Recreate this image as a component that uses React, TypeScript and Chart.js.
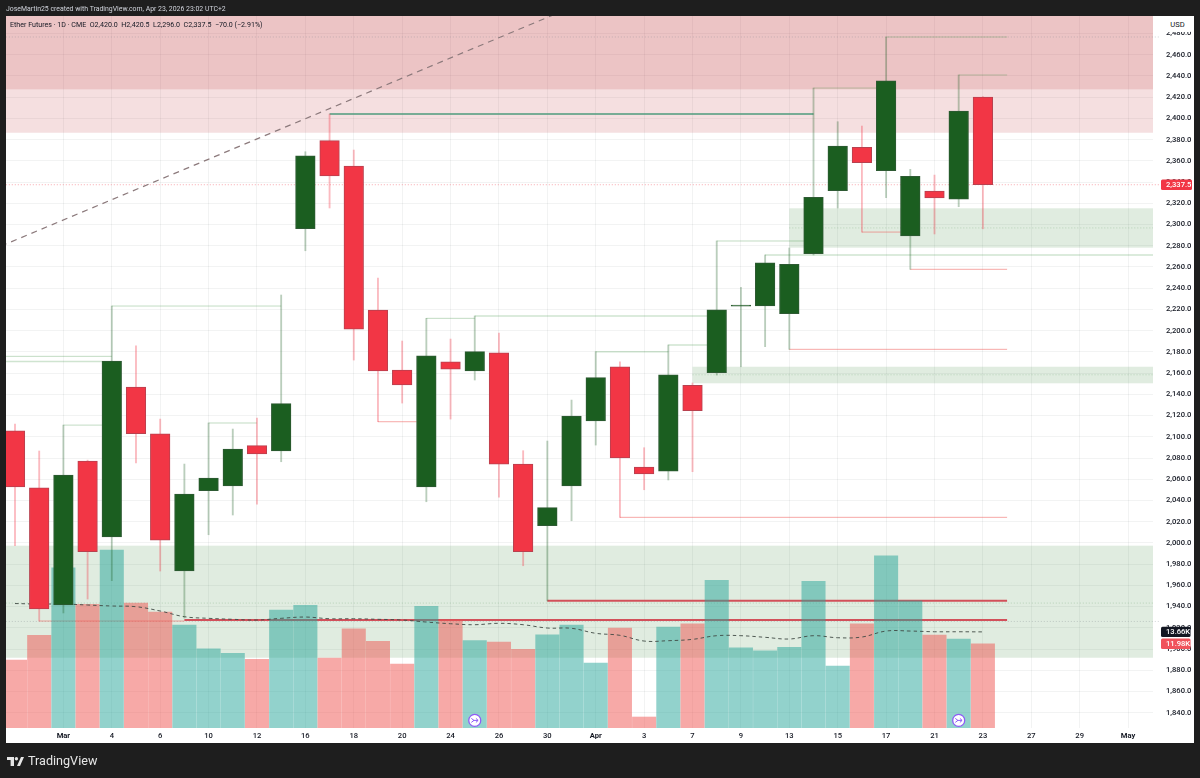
import React, { useEffect, useRef } from "react";
import { Chart, registerables } from "chart.js";

Chart.register(...registerables);

const categories = ["26", "27", "Mar", "3", "4", "5", "6", "9", "10", "11", "12", "13", "16", "17", "18", "19", "20", "23", "24", "25", "26", "27", "30", "31", "Apr", "2", "3", "6", "7", "8", "9", "10", "13", "14", "15", "16", "17", "20", "21", "22", "23", "24", "27", "28", "29", "30", "May", "4"];
const monthLabels = ["Mar", "Apr", "May"];
const dateTicks = [2, 4, 6, 8, 10, 12, 14, 16, 18, 20, 22, 24, 26, 28, 30, 32, 34, 36, 38, 40, 42, 44, 46];
const priceTicks = [1840, 1860, 1880, 1900, 1920, 1940, 1960, 1980, 2000, 2020, 2040, 2060, 2080, 2100, 2120, 2140, 2160, 2180, 2200, 2220, 2240, 2260, 2280, 2300, 2320, 2340, 2360, 2380, 2400, 2420, 2440, 2460, 2480];

const opens = [2105.7, 2052, 1941.5, 2077.2, 2005.6, 2146.9, 2102.9, 1973.5, 2049.2, 2053.6, 2091.6, 2086.6, 2296, 2379, 2355.1, 2219.4, 2162.9, 2052.7, 2170.7, 2162, 2179.2, 2074.3, 2016.2, 2053.6, 2114.9, 2166, 2071.5, 2067.7, 2148.5, 2160.4, 2223, 2223.2, 2216, 2272.5, 2331.9, 2372.7, 2350.7, 2289.2, 2331.6, 2323.8, 2420];
const highs = [2112, 2086.6, 2111, 2078, 2223.2, 2185.8, 2116.7, 2074.3, 2113, 2107.3, 2117.7, 2233.6, 2368.6, 2404.1, 2370.2, 2249.6, 2190.2, 2211.6, 2192.1, 2213.8, 2197.8, 2086.9, 2096, 2134.6, 2180.2, 2170.7, 2089.7, 2186.5, 2150.7, 2284.5, 2240.8, 2271.3, 2277.9, 2428.6, 2396.9, 2392.8, 2476.7, 2352, 2346.6, 2440.9, 2420.5];
const lows = [1997.4, 1926.4, 1934, 1947.1, 1964.4, 2075.3, 1973.5, 1929.2, 2007.7, 2026.3, 2036.6, 2076.5, 2275.3, 2315.6, 2172.3, 2114.2, 2131.8, 2038.8, 2116.7, 2153.5, 2043.2, 1978.5, 1945.3, 2020.9, 2092.2, 2024.1, 2050.1, 2059.3, 2067.1, 2158.2, 2166, 2184.9, 2182.4, 2271.3, 2315.6, 2292.9, 2325.3, 2257.8, 2291.1, 2316.8, 2296];
const closes = [2052.7, 1937.7, 2064, 1991.7, 2171.4, 2102.9, 2002.7, 2046.1, 2061.1, 2088.5, 2083.8, 2131.2, 2364.8, 2345.7, 2201.5, 2162, 2148.8, 2176.4, 2163.6, 2180.2, 2074.3, 1991.7, 2033.2, 2119.6, 2155.7, 2080, 2064.9, 2158.5, 2124.6, 2219.7, 2224, 2264, 2262.5, 2325.6, 2374, 2358.2, 2435.5, 2345.4, 2325, 2407, 2337.5];

// volume in thousands
const volumes = [9.66, 13.17, 22.78, 17.58, 25.29, 17.76, 16.48, 14.64, 11.27, 10.61, 9.76, 16.77, 17.44, 9.95, 14.11, 12.32, 9.09, 17.29, 15.35, 12.41, 12.22, 11.18, 13.26, 14.64, 9.24, 14.21, 1.56, 14.35, 14.82, 20.99, 11.41, 10.98, 11.47, 20.85, 8.81, 14.82, 24.48, 18.09, 13.22, 12.65, 11.98];
const volumeMA = [17.69, 17.62, 17.62, 17.48, 17.34, 17.24, 16.63, 15.82, 15.59, 15.45, 15.35, 15.59, 15.77, 15.53, 15.53, 15.45, 15.35, 15.06, 14.82, 14.68, 14.88, 14.68, 14.21, 14.17, 13.46, 13.17, 12.36, 12.41, 12.6, 13.12, 13.12, 12.89, 12.65, 13.12, 12.83, 12.93, 13.78, 13.78, 13.68, 13.68, 13.66];

// [from bar, to bar, price]
const greenLevels = [[-1, 4, 2175.8], [2, 3.6, 2111], [4, 11, 2223.2], [8, 10, 2113], [17, 19, 2211.6], [29, 32.7, 2284.5], [33, 35.7, 2428.6], [36, 41, 2476.7], [39, 41, 2440.9]];
const wideGreenLevels = [[-1, 3.6, 2170.9], [19, 28.6, 2213.8], [24, 27, 2180.2], [27, 28.6, 2186.5], [31, 48, 2271.3]];
const redLevels = [[1, 7, 1926.4], [15, 16.6, 2114.2], [25, 41, 2024.1], [32, 41, 2182.4], [35, 36.6, 2292.9], [37, 41, 2257.8]];
const heavyRedLevels = [[7, 41, 1927.3], [22, 41, 1945.5]];
const heavyGreenLevels = [[13, 33, 2404.1]];

// [from bar, price top, price bottom]
const greenZones = [[-1, 1997.4, 1891.8], [32, 2315.3, 2278.2], [28, 2166, 2150.4]];
const redZones = [[-1, 2500, 2427.4], [-1, 2500, 2386.5]];

// [from bar, price]
const zoneMidlines = [[-1, 1943.3], [32, 2296.8], [28, 2158.4]];
const sessionLines = [2476.7, 1926];

const trendBars = [-1, 23];
const trendPrices = [2275.7, 2504.7];

const eventBars = [19, 39];

const GREEN = "#1b5e20";
const RED = "#f23645";
const isUp = (i: number) => closes[i] >= opens[i];
const fmtPrice = (v: number) => v.toLocaleString("en-US", { minimumFractionDigits: 1, maximumFractionDigits: 1 });

const zonesPlugin = {
  id: "zones",
  beforeDatasetsDraw(chart: any) {
    const { ctx, chartArea, scales } = chart;
    const drawZone = (zone: number[], color: string) => {
      const x = Math.max(scales.x.getPixelForValue(zone[0]), chartArea.left);
      const top = Math.max(scales.y.getPixelForValue(zone[1]), chartArea.top);
      const bottom = scales.y.getPixelForValue(zone[2]);
      ctx.fillStyle = color;
      ctx.fillRect(x, top, chartArea.right - x, bottom - top);
    };
    greenZones.forEach((z) => drawZone(z, "rgba(46,125,50,0.15)"));
    redZones.forEach((z) => drawZone(z, "rgba(188,42,48,0.15)"));
  },
};

const tagsPlugin = {
  id: "tags",
  afterDraw(chart: any) {
    const { ctx, scales } = chart;
    const drawTag = (y: number, text: string, color: string, width: number) => {
      ctx.fillStyle = color;
      ctx.beginPath();
      ctx.roundRect(1161, y - 5.2, width, 10.4, 1.5);
      ctx.fill();
      ctx.fillStyle = "#ffffff";
      ctx.font = "500 7.6px Roboto";
      ctx.textBaseline = "middle";
      ctx.textAlign = "left";
      ctx.fillText(text, 1166, y + 0.4);
    };
    const last = closes.length - 1;
    drawTag(scales.y.getPixelForValue(closes[last]), fmtPrice(closes[last]), RED, 31);
    drawTag(scales.vol.getPixelForValue(volumeMA[last]), volumeMA[last].toFixed(2) + "K", "#131722", 29.5);
    drawTag(scales.vol.getPixelForValue(volumes[last]), volumes[last].toFixed(2) + "K", "#f0535b", 29.5);

    // earnings style event markers sitting on the bottom of the pane
    eventBars.forEach((bar) => {
      const x = scales.x.getPixelForValue(bar);
      const y = chart.chartArea.bottom - 7.6;
      ctx.beginPath();
      ctx.arc(x, y, 6, 0, Math.PI * 2);
      ctx.fillStyle = "#ffffff";
      ctx.fill();
      ctx.lineWidth = 1.3;
      ctx.strokeStyle = "#8f5cf6";
      ctx.stroke();
      ctx.beginPath();
      ctx.moveTo(x - 3.4, y - 2);
      ctx.lineTo(x - 0.8, y);
      ctx.lineTo(x - 3.4, y + 2);
      ctx.moveTo(x - 1.5, y);
      ctx.lineTo(x + 3.2, y);
      ctx.moveTo(x + 1.2, y - 2);
      ctx.lineTo(x + 3.4, y);
      ctx.lineTo(x + 1.2, y + 2);
      ctx.lineWidth = 1;
      ctx.stroke();
    });
  },
};

const levelDataset = (level: number[], color: string, width: number) => ({
  type: "line" as const,
  yAxisID: "y",
  data: [{ x: level[0], y: level[2] }, { x: level[1], y: level[2] }],
  borderColor: color,
  borderWidth: width,
  pointRadius: 0,
  order: 20,
});

const App = () => {
  const canvasRef = useRef<HTMLCanvasElement>(null);

  useEffect(() => {
    if (!canvasRef.current) return;

    const datasets: any[] = [
      {
        type: "bar",
        label: "Volume",
        yAxisID: "vol",
        data: volumes.map((v, i) => ({ x: i, y: v })),
        backgroundColor: volumes.map((_, i) => (isUp(i) ? "rgba(38,166,154,0.5)" : "rgba(239,83,80,0.5)")),
        barThickness: 23.4,
        grouped: false,
        order: 10,
      },
      {
        type: "line",
        label: "Volume MA",
        yAxisID: "vol",
        data: volumeMA.map((v, i) => ({ x: i, y: v })),
        borderColor: "#3f4a44",
        borderWidth: 0.9,
        borderDash: [3.5, 3],
        tension: 0.4,
        pointRadius: 0,
        order: 6,
      },
      {
        type: "bar",
        label: "Wicks",
        yAxisID: "y",
        data: highs.map((h, i) => ({ x: i, y: [lows[i], h] })),
        backgroundColor: highs.map((_, i) => (isUp(i) ? "rgba(27,94,32,0.3)" : "rgba(242,54,69,0.34)")),
        barThickness: 1.2,
        grouped: false,
        order: 5,
      },
      {
        type: "bar",
        label: "Bodies",
        yAxisID: "y",
        data: opens.map((o, i) => ({ x: i, y: [o, closes[i]] })),
        backgroundColor: opens.map((_, i) => (isUp(i) ? GREEN : RED)),
        borderColor: opens.map((_, i) => (isUp(i) ? "#2e5a33" : "#b8414f")),
        borderWidth: 1,
        borderSkipped: false,
        barThickness: 19.6,
        grouped: false,
        order: 4,
      },
      {
        type: "line",
        label: "Trend",
        yAxisID: "y",
        data: trendBars.map((b, i) => ({ x: b, y: trendPrices[i] })),
        borderColor: "#8c7a7c",
        borderWidth: 1.2,
        borderDash: [6, 5],
        pointRadius: 0,
        order: 3,
      },
      ...greenLevels.map((l) => levelDataset(l, "rgba(56,142,60,0.34)", 0.9)),
      ...wideGreenLevels.map((l) => levelDataset(l, "rgba(56,142,60,0.24)", 1.6)),
      ...redLevels.map((l) => levelDataset(l, "rgba(239,83,80,0.5)", 1)),
      ...heavyGreenLevels.map((l) => levelDataset(l, "#4d9b7c", 1.5)),
      ...heavyRedLevels.map((l) => levelDataset(l, "#d2505a", 2)),
      ...zoneMidlines.map((m) => ({
        ...levelDataset([m[0], 48, m[1]], "rgba(46,125,50,0.3)", 0.8),
        borderDash: [1, 2],
      })),
      ...sessionLines.map((p) => ({
        ...levelDataset([-1, 47.3, p], "rgba(110,120,130,0.4)", 0.8),
        borderDash: [1, 2],
        clip: { left: 0, top: 0, bottom: 0, right: 7 },
      })),
      {
        ...levelDataset([-1, 47.3, closes[closes.length - 1]], "rgba(242,54,69,0.55)", 0.8),
        borderDash: [1, 2],
        clip: { left: 0, top: 0, bottom: 0, right: 7 },
      },
    ];

    const chart = new Chart(canvasRef.current, {
      type: "bar",
      data: { datasets },
      options: {
        responsive: false,
        animation: false,
        layout: { padding: { left: 6, top: 16, right: 6, bottom: 35 } },
        plugins: { legend: { display: false }, tooltip: { enabled: false }, title: { display: false } },
        scales: {
          x: {
            type: "linear",
            offset: false,
            min: -0.372,
            max: 47.03,
            grid: { color: "rgba(42,46,57,0.06)", drawTicks: false, offset: false },
            border: { display: false },
            afterBuildTicks: (axis: any) => {
              axis.ticks = dateTicks.map((value) => ({ value }));
            },
            afterFit: (axis: any) => {
              axis.height = 15;
              axis.paddingLeft = 0;
              axis.paddingRight = 0;
            },
            ticks: {
              autoSkip: false,
              maxRotation: 0,
              padding: 4,
              color: "#131722",
              font: (ctx: any) => ({
                family: "Roboto",
                size: 7.6,
                weight: monthLabels.includes(categories[ctx.tick?.value]) ? "bold" : "500",
              }),
              callback: (value: any) => categories[value],
            },
          },
          y: {
            position: "right",
            min: 1825.6,
            max: 2496.5,
            grid: { color: "rgba(42,46,57,0.06)", drawTicks: false },
            border: { display: false },
            afterBuildTicks: (axis: any) => {
              axis.ticks = priceTicks.map((value) => ({ value }));
            },
            afterFit: (axis: any) => {
              axis.width = 41;
              axis.paddingTop = 0;
              axis.paddingBottom = 0;
            },
            ticks: {
              autoSkip: false,
              padding: 13,
              color: "#131722",
              font: { family: "Roboto", size: 7.6, weight: "500" },
              callback: (value: any) => fmtPrice(value),
            },
          },
          vol: { display: false, min: 0, max: 101.2 },
        },
      },
      plugins: [zonesPlugin, tagsPlugin],
    } as any);

    return () => chart.destroy();
  }, []);

  const ink = "#131722";
  return (
    <div style={{ position: "fixed", left: 0, top: 0, width: 1200, height: 778, background: "#1e1e1e", overflow: "hidden", fontFamily: "Roboto" }}>
      <div style={{ position: "absolute", left: 6, top: 15.5, width: 1188, height: 727.5, background: "#ffffff" }} />
      <canvas ref={canvasRef} width={1200} height={778} style={{ position: "absolute", left: 0, top: 0 }} />
      <div style={{ position: "absolute", left: 6, top: 3.5, fontSize: 6.9, lineHeight: "11px", color: "#d1d4dc", whiteSpace: "nowrap" }}>
        JoseMartin25 created with TradingView.com, Apr 23, 2026 23:02 UTC+2
      </div>
      <div style={{ position: "absolute", left: 10, top: 19, fontSize: 7.1, lineHeight: "11px", color: ink, whiteSpace: "nowrap" }}>
        Ether Futures · 1D · CME &nbsp;O2,420.0 &nbsp;H2,420.5 &nbsp;L2,296.0 &nbsp;C2,337.5 &nbsp;−70.0 (−2.91%)
      </div>
      <div style={{ position: "absolute", left: 1163, top: 18, width: 29, height: 14, lineHeight: "14px", textAlign: "center", fontSize: 7.6, color: ink, background: "#ffffff", borderRadius: 2 }}>
        USD
      </div>
      <svg style={{ position: "absolute", left: 7, top: 756 }} width="17" height="11" viewBox="0 0 17 11">
        <path d="M0 1h7v9H3.6V4H0z M10 10l4-9h3l-4 9z" fill="#e6e6e6" />
        <circle cx="9.4" cy="2.7" r="1.7" fill="#e6e6e6" />
      </svg>
      <div style={{ position: "absolute", left: 28, top: 752, fontSize: 12.6, lineHeight: "18px", color: "#e6e6e6", whiteSpace: "nowrap" }}>
        TradingView
      </div>
    </div>
  );
};

export default App;
